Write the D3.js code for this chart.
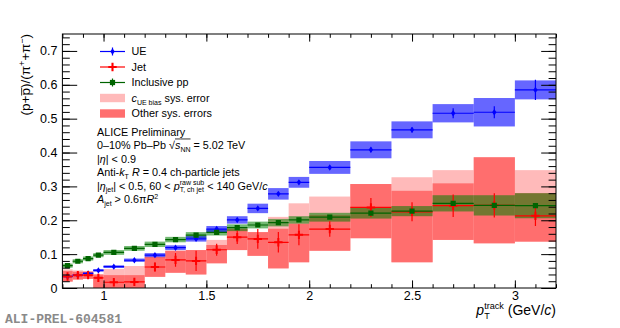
<!DOCTYPE html>
<html>
<head>
<meta charset="utf-8">
<script src="https://cdn.jsdelivr.net/npm/d3@7"></script>
<style>
body { margin: 0; background: #fff; }
svg { font-family: 'Liberation Sans', Arial, Helvetica, sans-serif; }
text { white-space: pre; }
</style>
</head>
<body>
<script>
// data
var binEdges = [0.8, 0.85, 0.9, 0.95, 1.0, 1.1, 1.2, 1.3, 1.4, 1.5, 1.6, 1.7, 1.8, 1.9, 2.0, 2.2, 2.4, 2.6, 2.8, 3.0, 3.2];

var ueVal  = [0.034, 0.038, 0.043, 0.052, 0.063, 0.082, 0.097, 0.119, 0.145, 0.174, 0.201, 0.235, 0.278, 0.312, 0.356, 0.408, 0.467, 0.516, 0.519, 0.585];
var ueStat = [0.002, 0.002, 0.002, 0.002, 0.002, 0.003, 0.003, 0.003, 0.003, 0.004, 0.004, 0.005, 0.005, 0.006, 0.006, 0.007, 0.008, 0.015, 0.018, 0.030];
var ueSys  = [0.003, 0.003, 0.003, 0.004, 0.004, 0.005, 0.006, 0.007, 0.008, 0.009, 0.011, 0.014, 0.017, 0.016, 0.019, 0.025, 0.025, 0.027, 0.042, 0.028];

var jetVal    = [0.034, 0.038, 0.038, 0.030, 0.017, 0.018, 0.062, 0.083, 0.080, 0.113, 0.150, 0.145, 0.135, 0.157, 0.174, 0.238, 0.225, 0.243, 0.244, 0.213];
var jetStat   = [0.008, 0.010, 0.010, 0.012, 0.010, 0.010, 0.014, 0.020, 0.030, 0.018, 0.020, 0.029, 0.030, 0.031, 0.023, 0.028, 0.028, 0.033, 0.036, 0.030];
var jetSysLo  = [0.015, 0.013, 0.011, 0.040, 0.027, 0.028, 0.029, 0.038, 0.040, 0.040, 0.038, 0.050, 0.077, 0.081, 0.064, 0.091, 0.149, 0.101, 0.112, 0.076];
var jetSysHi  = [0.016, 0.010, 0.010, 0.010, 0.021, 0.020, 0.030, 0.027, 0.032, 0.014, 0.025, 0.020, 0.040, 0.033, 0.041, 0.069, 0.062, 0.066, 0.142, 0.067];
var jetUeBias = [0.005, 0.004, 0.002, 0.000, 0.018, 0.027, 0.000, 0.000, 0.000, 0.015, 0.000, 0.000, 0.035, 0.060, 0.055, 0.000, 0.040, 0.039, 0.000, 0.068];

var ppVal  = [0.066, 0.079, 0.087, 0.097, 0.105, 0.117, 0.129, 0.143, 0.156, 0.164, 0.178, 0.186, 0.193, 0.201, 0.209, 0.221, 0.227, 0.250, 0.244, 0.243];
var ppStat = [0.001, 0.001, 0.001, 0.001, 0.001, 0.001, 0.001, 0.002, 0.002, 0.002, 0.002, 0.002, 0.003, 0.003, 0.003, 0.003, 0.004, 0.005, 0.005, 0.006];
var ppSys  = [0.006, 0.006, 0.006, 0.006, 0.007, 0.007, 0.008, 0.008, 0.009, 0.009, 0.010, 0.010, 0.011, 0.011, 0.013, 0.016, 0.015, 0.024, 0.030, 0.037];

var xMajorTicks = [1, 1.5, 2, 2.5, 3];
var yMajorTicks = [0, 0.1, 0.2, 0.3, 0.4, 0.5, 0.6, 0.7];

// colours
var cBlue = '#0000ff', cRed = '#ff0000', cGreen = '#006400';
var fBlue = 'rgba(0,0,255,0.6)', fRed = '#ff6e6e', fPink = '#ffbaba', fGreen = 'rgba(0,128,0,0.55)';

// chart
var W = 620, H = 328;
var margin = { top: 34, right: 64, bottom: 40, left: 62.4 };
var width = W - margin.left - margin.right;
var height = H - margin.top - margin.bottom;

var svg = d3.select('body').append('svg').attr('width', W).attr('height', H);

var x = d3.scaleLinear().domain([0.8, 3.2]).range([margin.left, margin.left + width]);
var y = d3.scaleLinear().domain([0, 0.75]).range([margin.top + height, margin.top]);

svg.append('defs').append('clipPath').attr('id', 'clip')
	.append('rect')
	.attr('x', margin.left).attr('y', margin.top)
	.attr('width', width).attr('height', height);

var bins = binEdges.slice(0, -1).map(function (lo, i) {
	return { i: i, lo: lo, hi: binEdges[i + 1], c: (lo + binEdges[i + 1]) / 2 };
});

var plot = svg.append('g').attr('clip-path', 'url(#clip)');

function boxes (cls, fill, lo, hi) {
	plot.selectAll('rect.' + cls).data(bins).enter()
		.append('rect').attr('class', cls)
		.attr('x', function (d) { return x(d.lo); })
		.attr('width', function (d) { return x(d.hi) - x(d.lo); })
		.attr('y', function (d) { return y(hi(d.i)); })
		.attr('height', function (d) { return y(lo(d.i)) - y(hi(d.i)); })
		.attr('fill', fill);
}

// systematic boxes
boxes('pink', fPink, function (i) { return jetVal[i] - jetSysLo[i]; }, function (i) { return jetVal[i] + jetSysHi[i] + jetUeBias[i]; });
boxes('red', fRed, function (i) { return jetVal[i] - jetSysLo[i]; }, function (i) { return jetVal[i] + jetSysHi[i]; });
boxes('green', fGreen, function (i) { return ppVal[i] - ppSys[i]; }, function (i) { return ppVal[i] + ppSys[i]; });
boxes('blue', fBlue, function (i) { return ueVal[i] - ueSys[i]; }, function (i) { return ueVal[i] + ueSys[i]; });

// points with stat errors
function points (vals, stat, color, sw, marker) {
	var g = plot.append('g');
	g.selectAll('line.h').data(bins).enter().append('line')
		.attr('x1', function (d) { return x(d.lo); })
		.attr('x2', function (d) { return x(d.hi); })
		.attr('y1', function (d) { return y(vals[d.i]); })
		.attr('y2', function (d) { return y(vals[d.i]); })
		.attr('stroke', color).attr('stroke-width', sw);
	g.selectAll('line.v').data(bins).enter().append('line')
		.attr('x1', function (d) { return x(d.c); })
		.attr('x2', function (d) { return x(d.c); })
		.attr('y1', function (d) { return y(vals[d.i] - stat[d.i]); })
		.attr('y2', function (d) { return y(vals[d.i] + stat[d.i]); })
		.attr('stroke', color).attr('stroke-width', sw);
	g.selectAll('path').data(bins).enter().append('path')
		.attr('transform', function (d) { return 'translate(' + x(d.c) + ',' + y(vals[d.i]) + ')'; })
		.call(marker);
}

function crossMarker (sel) {
	sel.attr('d', 'M-4.2,0H4.2M0,-4.2V4.2').attr('stroke', cRed).attr('stroke-width', 2).attr('fill', 'none');
}
function squareMarker (sel) {
	sel.attr('d', 'M-2.6,-2.6H2.6V2.6H-2.6Z').attr('fill', cGreen);
}
function diamondMarker (sel) {
	sel.attr('d', 'M0,-3.2L2.2,0L0,3.2L-2.2,0Z').attr('fill', cBlue);
}

points(ueVal, ueStat, cBlue, 1.2, diamondMarker);
points(jetVal, jetStat, cRed, 1.2, crossMarker);
points(ppVal, ppStat, cGreen, 1.2, squareMarker);

// axes
var xMinor = d3.range(8, 33).map(function (v) { return v / 10; });
var yMinor = d3.range(0, 38).map(function (v) { return v / 50; });
var tickFmt = d3.format('~g');
var yFmt = function (d) { return d === 0 ? '0' : d3.format('.1f')(d); };

function axisStyle (g) {
	g.select('.domain').remove();
	g.selectAll('line').attr('stroke', '#000');
	g.selectAll('text').attr('font-family', null).attr('font-size', 12.5).attr('fill', '#000');
}

var yb = margin.top + height;
svg.append('g').attr('transform', 'translate(0,' + yb + ')')
	.call(d3.axisBottom(x).tickValues(xMinor).tickSize(-3.8).tickSizeOuter(0).tickFormat(''))
	.call(axisStyle);
svg.append('g').attr('transform', 'translate(0,' + yb + ')')
	.call(d3.axisBottom(x).tickValues(xMajorTicks).tickSize(-7.6).tickSizeOuter(0).tickPadding(3).tickFormat(tickFmt))
	.call(axisStyle);
svg.append('g').attr('transform', 'translate(0,' + margin.top + ')')
	.call(d3.axisTop(x).tickValues(xMinor).tickSize(-3.8).tickSizeOuter(0).tickFormat(''))
	.call(axisStyle);
svg.append('g').attr('transform', 'translate(0,' + margin.top + ')')
	.call(d3.axisTop(x).tickValues(xMajorTicks).tickSize(-7.6).tickSizeOuter(0).tickFormat(''))
	.call(axisStyle);

svg.append('g').attr('transform', 'translate(' + margin.left + ',0)')
	.call(d3.axisLeft(y).tickValues(yMinor).tickSize(-7.4).tickSizeOuter(0).tickFormat(''))
	.call(axisStyle);
svg.append('g').attr('transform', 'translate(' + margin.left + ',0)')
	.call(d3.axisLeft(y).tickValues(yMajorTicks).tickSize(-14.8).tickSizeOuter(0).tickPadding(5).tickFormat(yFmt))
	.call(axisStyle);
svg.append('g').attr('transform', 'translate(' + (margin.left + width) + ',0)')
	.call(d3.axisRight(y).tickValues(yMinor).tickSize(-7.4).tickSizeOuter(0).tickFormat(''))
	.call(axisStyle);
svg.append('g').attr('transform', 'translate(' + (margin.left + width) + ',0)')
	.call(d3.axisRight(y).tickValues(yMajorTicks).tickSize(-14.8).tickSizeOuter(0).tickFormat(''))
	.call(axisStyle);

svg.append('rect')
	.attr('x', margin.left).attr('y', margin.top)
	.attr('width', width).attr('height', height)
	.attr('fill', 'none').attr('stroke', '#000').attr('stroke-width', 1);

// rich text: runs of plain / italic / stacked sub+sup, optional overline
function rich (parent, px, py, parts, size, anchor) {
	var g = parent.append('g');
	var cx = 0;
	parts.forEach(function (p) {
		if (typeof p === 'string') p = { t: p };
		var start = cx, w = 0;
		if (p.sup !== undefined || p.sub !== undefined) {
			var s = size * 0.65;
			if (p.sup) {
				var t1 = g.append('text').attr('x', cx).attr('y', -size * 0.4).attr('font-size', s).text(p.sup);
				w = Math.max(w, t1.node().getComputedTextLength());
			}
			if (p.sub) {
				var t2 = g.append('text').attr('x', cx).attr('y', size * 0.26).attr('font-size', s).text(p.sub);
				w = Math.max(w, t2.node().getComputedTextLength());
			}
		} else {
			var t = g.append('text').attr('x', cx).attr('y', 0).attr('font-size', size)
				.attr('font-style', p.i ? 'italic' : null).text(p.t);
			w = t.node().getComputedTextLength();
		}
		cx += w;
		if (p.ol) {
			g.append('line').attr('x1', start).attr('x2', cx)
				.attr('y1', -size * p.ol).attr('y2', -size * p.ol)
				.attr('stroke', '#000').attr('stroke-width', 0.8);
		}
	});
	var dx = anchor === 'end' ? -cx : (anchor === 'middle' ? -cx / 2 : 0);
	g.attr('transform', 'translate(' + (px + dx) + ',' + py + ')');
	return g;
}

// axis titles
var yt = svg.append('g').attr('transform', 'translate(30,' + margin.top + ') rotate(-90)');
rich(yt, 0, 0, ['(p+', { t: 'p', ol: 0.62 }, ')/(\u03c0', { sup: '+' }, '+\u03c0', { sup: '\u2212' }, ')'], 13.5, 'end');

rich(svg, margin.left + width, 315, [{ t: 'p', i: true }, { sup: 'track', sub: 'T' }, ' (GeV/', { t: 'c', i: true }, ')'], 14, 'end');

// legend
var legendLabels = [
	['UE'],
	['Jet'],
	['Inclusive pp'],
	[{ t: 'c', i: true }, { sub: 'UE bias' }, ' sys. error'],
	['Other sys. errors']
];
var legendKinds = ['ue', 'jet', 'pp', 'pink', 'red'];
var lx0 = 100, lx1 = 125, ly0 = 51.5, ldy = 15.5;
legendKinds.forEach(function (k, i) {
	var cy = ly0 + i * ldy;
	var lg = svg.append('g');
	if (k === 'pink' || k === 'red') {
		lg.append('rect').attr('x', lx0).attr('y', cy - 4.2).attr('width', lx1 - lx0).attr('height', 8.4)
			.attr('fill', k === 'pink' ? fPink : fRed);
	} else {
		var col = k === 'ue' ? cBlue : (k === 'jet' ? cRed : cGreen);
		var xm = (lx0 + lx1) / 2;
		lg.append('line').attr('x1', lx0).attr('x2', lx1).attr('y1', cy).attr('y2', cy).attr('stroke', col).attr('stroke-width', 1.2);
		lg.append('line').attr('x1', xm).attr('x2', xm).attr('y1', cy - 4).attr('y2', cy + 4).attr('stroke', col).attr('stroke-width', 1.2);
		lg.append('path').attr('transform', 'translate(' + xm + ',' + cy + ')')
			.call(k === 'ue' ? diamondMarker : (k === 'jet' ? crossMarker : squareMarker));
	}
	rich(svg, 131.5, cy + 3.8, legendLabels[i], 10.8);
});

// text block
var infoLines = [
	['ALICE Preliminary'],
	['0\u201310% Pb\u2013Pb ', { t: '\u221a' }, { t: 's', i: true, ol: 0.93 }, { sub: 'NN', ol: 0.93 }, ' = 5.02 TeV'],
	['|', { t: '\u03b7', i: true }, '| < 0.9'],
	['Anti-', { t: 'k', i: true }, { sub: 'T' }, ' ', { t: 'R', i: true }, ' = 0.4 ch-particle jets'],
	['|', { t: '\u03b7', i: true }, { sub: 'jet' }, '| < 0.5, 60 < ', { t: 'p', i: true }, { sup: 'raw sub', sub: 'T, ch jet' }, ' < 140 GeV/', { t: 'c', i: true }],
	[{ t: 'A', i: true }, { sub: 'jet' }, ' > 0.6\u03c0', { t: 'R', i: true }, { sup: '2' }]
];
infoLines.forEach(function (parts, i) {
	rich(svg, 97, 135.5 + i * 13.5, parts, 10.8);
});

// preliminary id
svg.append('text')
	.attr('x', 5).attr('y', 323)
	.attr('font-family', "'Liberation Mono', 'DejaVu Sans Mono', monospace")
	.attr('font-weight', 'bold')
	.attr('font-size', 13)
	.attr('fill', '#8a8a8a')
	.text('ALI-PREL-604581');
</script>
</body>
</html>
